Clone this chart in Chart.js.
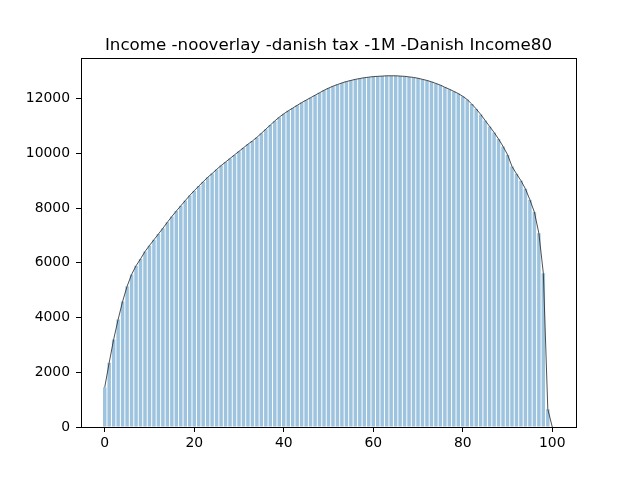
<!DOCTYPE html>
<html>
<head>
<meta charset="utf-8">
<script src="https://cdn.jsdelivr.net/npm/chart.js@4.4.0/dist/chart.umd.min.js"></script>
<style>
  html, body { margin: 0; padding: 0; background: #fff; }
  #wrap { width: 640px; height: 480px; }
</style>
</head>
<body>
<div id="wrap"><canvas id="c" width="640" height="480"></canvas></div>
<script>
// bar heights per percentile bin
var incomeValues = [
  1450, 2350, 3200, 3930, 4590, 5140, 5570, 5890, 6140, 6410,
  6630, 6840, 7050, 7260, 7480, 7690, 7890, 8080, 8270, 8460,
  8630, 8800, 8960, 9120, 9260, 9410, 9550, 9680, 9810, 9940,
  10070, 10200, 10330, 10450, 10580, 10730, 10880, 11030, 11180, 11320,
  11440, 11550, 11650, 11750, 11850, 11940, 12030, 12120, 12210, 12300,
  12380, 12450, 12510, 12570, 12620, 12660, 12700, 12730, 12760, 12780,
  12800, 12810, 12820, 12830, 12830, 12830, 12820, 12810, 12790, 12770,
  12740, 12700, 12660, 12610, 12550, 12490, 12410, 12340, 12260, 12180,
  12080, 11960, 11800, 11620, 11420, 11200, 10980, 10760, 10520, 10250,
  9950, 9520, 9250, 9000, 8700, 8300, 7850, 7080, 5620, 650
];
var percentiles = incomeValues.map(function (v, i) { return i; });
// the outline closes at the right edge
var outlineEnd = { x: 100, y: 0 };
var xTicks = [0, 20, 40, 60, 80, 100];
var yTicks = [0, 2000, 4000, 6000, 8000, 10000, 12000];
var titleText = 'Income -nooverlay -danish tax -1M -Danish Income80';

var barPoints = percentiles.map(function (p, i) { return { x: p, y: incomeValues[i] }; });
var linePoints = barPoints.concat([outlineEnd]);

// axes frame plus a title centred over the plot area (matplotlib style)
var frameBox = {
  id: 'frameBox',
  afterDraw: function (chart) {
    var a = chart.chartArea, ctx = chart.ctx;
    ctx.save();
    ctx.strokeStyle = '#000';
    ctx.lineWidth = 1;
    ctx.strokeRect(Math.round(a.left) + 0.5, Math.round(a.top) + 0.5,
      Math.round(a.right - a.left), Math.round(a.bottom - a.top));
    ctx.fillStyle = '#000';
    ctx.font = '16.7px "DejaVu Sans"';
    ctx.textAlign = 'center';
    ctx.textBaseline = 'alphabetic';
    ctx.fillText(titleText, (a.left + a.right) / 2, a.top - 8);
    ctx.restore();
  }
};

var font = { family: 'DejaVu Sans', size: 13.9 };

new Chart(document.getElementById('c').getContext('2d'), {
  type: 'bar',
  data: {
    datasets: [
      {
        type: 'line',
        data: linePoints,
        borderColor: '#222',
        borderWidth: 0.8,
        pointRadius: 0,
        fill: false,
        order: 0
      },
      {
        type: 'bar',
        data: barPoints,
        backgroundColor: 'rgba(31,119,180,0.44)',
        borderWidth: 0,
        barPercentage: 0.78,
        categoryPercentage: 1.0,
        order: 1
      }
    ]
  },
  options: {
    responsive: false,
    animation: false,
    layout: { padding: { top: 58, left: 0, right: 64, bottom: 0 } },
    plugins: {
      legend: { display: false },
      tooltip: { enabled: false },
      title: { display: false }
    },
    scales: {
      x: {
        type: 'linear',
        offset: false,
        min: -5.3,
        max: 105.3,
        afterFit: function (s) { s.height = 53; },
        afterBuildTicks: function (s) { s.ticks = xTicks.map(function (v) { return { value: v }; }); },
        grid: { offset: false, drawOnChartArea: false, drawTicks: true, tickLength: 5, color: '#000' },
        border: { display: false },
        ticks: { color: '#000', font: font, padding: 3, maxRotation: 0 }
      },
      y: {
        min: 0,
        max: 13480,
        afterFit: function (s) { s.width = 81; },
        afterBuildTicks: function (s) { s.ticks = yTicks.map(function (v) { return { value: v }; }); },
        grid: { drawOnChartArea: false, drawTicks: true, tickLength: 5, color: '#000' },
        border: { display: false },
        ticks: { color: '#000', font: font, padding: 6, callback: function (v) { return String(v); } }
      }
    }
  },
  plugins: [frameBox]
});
</script>
</body>
</html>
